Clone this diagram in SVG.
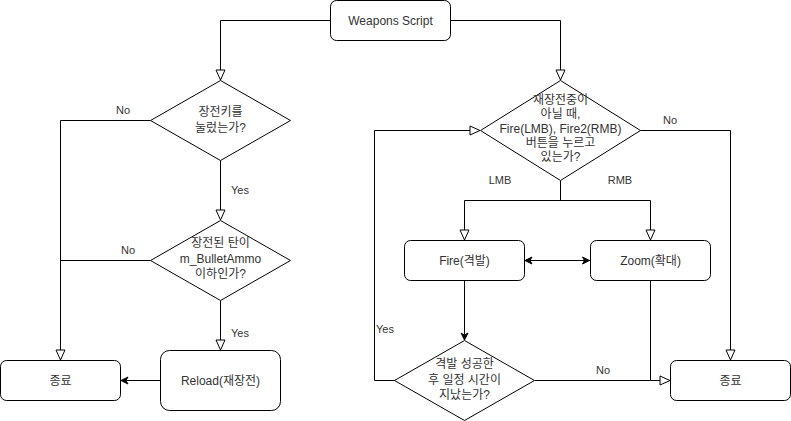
<svg xmlns="http://www.w3.org/2000/svg" width="791" height="421" viewBox="0 0 791 421">
<style>
.n{fill:#fff;stroke:#000;stroke-width:1}
.e{fill:none;stroke:#000;stroke-width:1}
text{font-family:"Liberation Sans","Noto Sans CJK KR",Arial,sans-serif;font-size:12px;fill:#333;text-anchor:middle}
.l{font-size:11px;fill:#333}
</style>
<defs>
<marker id="ob" markerUnits="userSpaceOnUse" markerWidth="14" markerHeight="12" refX="10" refY="5" orient="auto" overflow="visible">
<path d="M0,0.5 L10,5 L0,9.5 Z" fill="#fff" stroke="#000" stroke-width="1"/>
</marker>
<marker id="cf" markerUnits="userSpaceOnUse" markerWidth="10" markerHeight="10" refX="7" refY="3.5" orient="auto-start-reverse" overflow="visible">
<path d="M0,0 L7,3.5 L0,7 L2,3.5 Z" fill="#000" stroke="#000" stroke-width="1"/>
</marker>
</defs>
<g id="connectors">
<path class="e" d="M330.5,20.5 H220.5 V80" marker-end="url(#ob)"/>
<path class="e" d="M450.5,20.5 H560.5 V80" marker-end="url(#ob)"/>
<path class="e" d="M150.5,120.5 H60.5 V360" marker-end="url(#ob)"/>
<path class="e" d="M220.5,160.5 V220" marker-end="url(#ob)"/>
<path class="e" d="M150.5,260.5 H60.5"/>
<path class="e" d="M220.5,300.5 V350" marker-end="url(#ob)"/>
<path class="e" d="M160.5,380.5 H121" marker-end="url(#cf)"/>
<path class="e" d="M640.5,130.5 H730.5 V360" marker-end="url(#ob)"/>
<path class="e" d="M560.5,180.5 V200.5"/>
<path class="e" d="M464.5,200.5 H650.5"/>
<path class="e" d="M464.5,200.5 V240" marker-end="url(#ob)"/>
<path class="e" d="M650.5,200.5 V240" marker-end="url(#ob)"/>
<path class="e" d="M525,260.5 H589.5" marker-start="url(#cf)" marker-end="url(#cf)"/>
<path class="e" d="M464.5,280.5 V340" marker-end="url(#cf)"/>
<path class="e" d="M395.5,380.5 H374.5 V130.5 H480" marker-end="url(#ob)"/>
<path class="e" d="M534.5,380.5 H670" marker-end="url(#ob)"/>
<path class="e" d="M650.5,280.5 V380.5"/>
<text class="l" x="123" y="114">No</text>
<text class="l" x="240" y="194">Yes</text>
<text class="l" x="128" y="254">No</text>
<text class="l" x="240" y="337">Yes</text>
<text class="l" x="670" y="124">No</text>
<text class="l" x="500" y="184">LMB</text>
<text class="l" x="620" y="184">RMB</text>
<text class="l" x="385" y="333">Yes</text>
<text class="l" x="603" y="374">No</text>
</g>
<g id="weapons">
<rect class="n" x="330.5" y="0.5" width="120" height="40" rx="6"/>
<text x="390.5" y="25">Weapons Script</text>
</g>
<g id="d1">
<path class="n" d="M220.5,80.5 L290.5,120.5 L220.5,160.5 L150.5,120.5 Z"/>
<text x="220.5" y="116">장전키를</text>
<text x="220.5" y="132">눌렀는가?</text>
</g>
<g id="d2">
<path class="n" d="M220.5,220.5 L290.5,260.5 L220.5,300.5 L150.5,260.5 Z"/>
<text x="220.5" y="247">장전된 탄이</text>
<text x="220.5" y="263">m_BulletAmmo</text>
<text x="220.5" y="278">이하인가?</text>
</g>
<g id="reload">
<rect class="n" x="160.5" y="350.5" width="120" height="60" rx="9"/>
<text x="220.5" y="385">Reload(재장전)</text>
</g>
<g id="end1">
<rect class="n" x="0.5" y="360.5" width="120" height="40" rx="6"/>
<text x="60.5" y="385">종료</text>
</g>
<g id="d3">
<path class="n" d="M560.5,80.5 L640.5,130.5 L560.5,180.5 L480.5,130.5 Z"/>
<text x="560.5" y="104">재장전중이</text>
<text x="560.5" y="118">아닐 때,</text>
<text x="560.5" y="133">Fire(LMB), Fire2(RMB)</text>
<text x="560.5" y="147">버튼을 누르고</text>
<text x="560.5" y="161">있는가?</text>
</g>
<g id="fire">
<rect class="n" x="404.5" y="240.5" width="120" height="40" rx="6"/>
<text x="464.5" y="265">Fire(격발)</text>
</g>
<g id="zoom">
<rect class="n" x="590.5" y="240.5" width="120" height="40" rx="6"/>
<text x="650.5" y="265">Zoom(확대)</text>
</g>
<g id="d4">
<path class="n" d="M464.5,340.5 L534.5,380.5 L464.5,420.5 L394.5,380.5 Z"/>
<text x="464.5" y="368">격발 성공한</text>
<text x="464.5" y="384">후 일정 시간이</text>
<text x="464.5" y="399">지났는가?</text>
</g>
<g id="end2">
<rect class="n" x="670.5" y="360.5" width="120" height="40" rx="6"/>
<text x="730.5" y="385">종료</text>
</g>
</svg>
